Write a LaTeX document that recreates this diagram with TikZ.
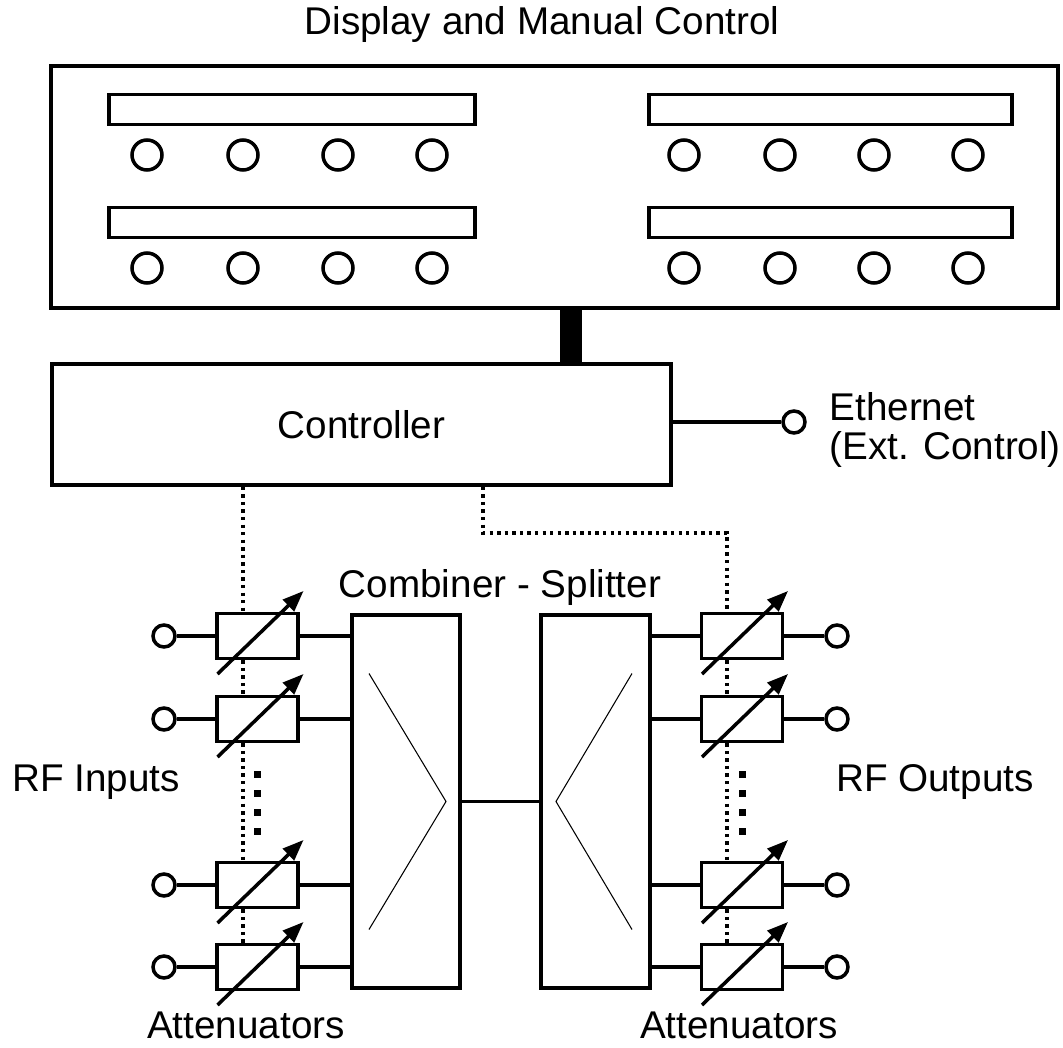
\documentclass[tikz,border=0pt]{standalone}
\usepackage{fontspec}
\setmainfont{Liberation Sans}
\usetikzlibrary{arrows.meta}

\begin{document}
\begin{tikzpicture}[x=0.02cm, y=-0.02cm, line width=2pt,
    font=\fontsize{22}{27}\selectfont,
    box/.style={draw, fill=white, inner sep=0pt},
    knob/.style={draw, circle, inner sep=0pt, minimum size=0.6cm},
    port/.style={draw, circle, fill=white, inner sep=0pt, minimum size=0.44cm},
    att/.style={box, minimum width=1.62cm, minimum height=0.9cm},
    tune/.style={-{Triangle[length=12pt, width=9pt]}},
    ctl/.style={dash pattern=on 1.9pt off 2.4pt},
    chev/.style={line width=0.6pt}]
    \useasboundingbox (0,0) rectangle (1063,1048);

    % display and manual control panel
    \node (title) at (542,25) {Display and Manual Control};
    \node[box, minimum width=20.14cm, minimum height=4.84cm] (panel) at (554.5,187) {};
    \node[box, minimum width=7.32cm, minimum height=0.6cm] (dispA) at (292,109.5) {};
    \node[box, minimum width=7.32cm, minimum height=0.6cm] (dispB) at (292,222.5) {};
    \node[box, minimum width=7.26cm, minimum height=0.6cm] (dispC) at (830.5,109.5) {};
    \node[box, minimum width=7.26cm, minimum height=0.6cm] (dispD) at (830.5,222.5) {};
    \foreach \k in {147,243,338,432,684,780,874,968}
      \foreach \yy in {155,268}
        \node[knob] (knob-\k-\yy) at (\k,\yy) {};

    % controller
    \node[box, minimum width=12.38cm, minimum height=2.42cm] (ctrl) at (361.5,424.5) {Controller};
    \coordinate (busx) at (571,0);
    \draw[line width=12.5pt] (panel.south -| busx) -- (ctrl.north -| busx);
    \node[port] (eth) at (794,422) {};
    \draw (ctrl.east |- eth) -- (eth);
    \node[anchor=west, align=left, font=\fontsize{22}{22.5}\selectfont] (ethtxt) at (822,430) {Ethernet\\(Ext. Control)};

    % combiner and splitter
    \node (cslabel) at (500,588) {Combiner - Splitter};
    \node[box, minimum width=2.16cm, minimum height=7.46cm] (comb) at (406,801.5) {};
    \node[box, minimum width=2.18cm, minimum height=7.46cm] (split) at (595.5,801.5) {};
    \draw (comb.east) -- (split.west);
    \draw[chev] ([shift={(-37,-128)}]comb.center) -- ([shift={(40,0)}]comb.center) -- ([shift={(-37,128)}]comb.center);
    \draw[chev] ([shift={(36.5,-128)}]split.center) -- ([shift={(-39.5,0)}]split.center) -- ([shift={(36.5,128)}]split.center);

    % attenuators
    \foreach \r/\yy in {1/636, 2/719, 3/885, 4/967} {
      \node[port] (inp\r) at (164,\yy) {};
      \node[att] (ain\r) at (257.5,\yy) {};
      \draw (inp\r) -- (ain\r);
      \draw (ain\r.east) -- (ain\r.east -| comb.west);
      \draw[tune] ([shift={(-40,38)}]ain\r.center) -- ([shift={(46,-45)}]ain\r.center);

      \node[att] (aout\r) at (742,\yy) {};
      \node[port] (outp\r) at (837,\yy) {};
      \draw (aout\r) -- (outp\r);
      \draw (split.east |- aout\r.west) -- (aout\r.west);
      \draw[tune] ([shift={(-40,38)}]aout\r.center) -- ([shift={(46,-45)}]aout\r.center);
    }
    \foreach \d in {774,793,812,831} {
      \fill (254,\d-3.5) rectangle ++(7,7);
      \fill (738.5,\d-3.5) rectangle ++(7,7);
    }

    % control lines
    \coordinate (selL) at (243,0);
    \coordinate (tapR) at (483,0);
    \coordinate (bendR) at (727,533);
    \draw[ctl] (ctrl.south -| selL) -- (ain1.north -| selL);
    \draw[ctl] (ctrl.south -| tapR) |- (bendR) -- (aout1.north -| bendR);
    \foreach \a/\b in {1/2, 2/3, 3/4} {
      \draw[ctl] (ain\a.south -| selL) -- (ain\b.north -| selL);
      \draw[ctl] (aout\a.south -| bendR) -- (aout\b.north -| bendR);
    }

    \node (rfin) at (96,782) {RF Inputs};
    \node (rfout) at (935,782) {RF Outputs};
    \node (attl) at (246,1025) {Attenuators};
    \node (attr) at (739,1025) {Attenuators};
\end{tikzpicture}
\end{document}
